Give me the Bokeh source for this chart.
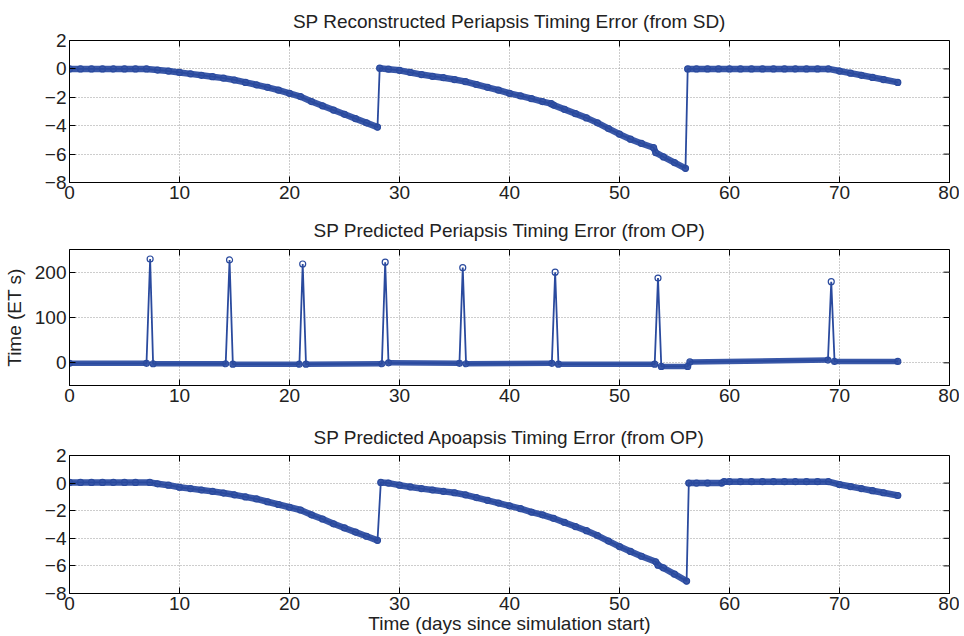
import math
from bokeh.plotting import figure
from bokeh.layouts import column
from bokeh.models import FixedTicker, Range1d
from bokeh.embed import file_html
from bokeh.resources import INLINE

# ---------------- data ----------------
X_TICKS = [0, 10, 20, 30, 40, 50, 60, 70, 80]
Y_TICKS_SMALL = [-8, -6, -4, -2, 0, 2]
Y_TICKS_OP = [0, 100, 200]

TITLE_SD = "SP Reconstructed Periapsis Timing Error (from SD)"
TITLE_OP_PERI = "SP Predicted Periapsis Timing Error (from OP)"
TITLE_OP_APO = "SP Predicted Apoapsis Timing Error (from OP)"
X_LABEL = "Time (days since simulation start)"
Y_LABEL = "Time (ET s)"

sd_days = [0, 1, 2, 3, 4, 5, 6, 7, 8, 9, 10, 11, 12, 13, 14, 15, 16, 17, 18, 19,
           20, 21, 22, 23, 24, 25, 26, 27, 28.0,
           28.2, 29, 30, 31, 32, 33, 34, 35, 36, 37, 38, 39, 40, 41, 42, 43, 43.8,
           44, 45, 46, 47, 48, 49, 50, 51, 52, 53.1, 53.3, 54, 55, 56.0,
           56.2, 57, 58, 59, 60, 61, 62, 63, 64, 65, 66, 67, 68, 69,
           70, 71, 72, 73, 74, 75.3]
sd_err = [0, 0, 0, 0, 0, 0, 0, 0, -0.08, -0.15, -0.25, -0.35, -0.45, -0.55, -0.65,
          -0.78, -0.95, -1.12, -1.3, -1.5, -1.72, -1.95, -2.3, -2.6, -2.9, -3.2,
          -3.5, -3.8, -4.1,
          0.05, -0.02, -0.1, -0.25, -0.4, -0.52, -0.62, -0.75, -0.9, -1.1, -1.3,
          -1.5, -1.72, -1.9, -2.1, -2.3, -2.45,
          -2.55, -2.85, -3.15, -3.45, -3.8, -4.2, -4.6, -4.95, -5.25, -5.55, -5.9,
          -6.2, -6.6, -7.0,
          0.0, 0.0, 0.0, 0.0, 0.0, 0.0, 0.0, 0.0, 0.0, 0.0, 0.0, 0.0, 0.0, 0.0,
          -0.15, -0.3, -0.45, -0.6, -0.75, -0.95]

op_peri_days = [0, 7.0, 7.33, 7.6, 14.2, 14.55, 14.85, 20.9, 21.2, 21.5, 28.4,
                28.7, 29.0, 35.45, 35.75, 36.05, 43.85, 44.15, 44.45, 53.2, 53.5,
                53.8, 56.2, 56.4, 68.95, 69.25, 69.55, 75.3]
op_peri_err = [-1, -1, 229, -2, -2, 227, -3, -3, 218, -3, -2, 222, 0, -1, 210, -2,
               -1, 200, -3, -3, 187, -8, -8, 2, 6, 179, 3, 3]

op_apo_days = [0, 1, 2, 3, 4, 5, 6, 7.3, 8, 9, 10, 11, 12, 13, 14, 15, 16, 17, 18,
               19, 20, 21, 22, 23, 24, 25, 26, 27, 28.0,
               28.3, 29, 30, 31, 32, 33, 34, 35, 36, 37, 38, 39, 40, 41, 42, 43, 44,
               45, 46, 47, 48, 49, 50, 51, 52, 53.3, 53.5, 54, 55, 56.1,
               56.3, 57, 58, 59.3, 59.5, 60, 61, 62, 63, 64, 65, 66, 67, 68, 69,
               70, 71, 72, 73, 74, 75.3]
op_apo_err = [0.05, 0.05, 0.05, 0.05, 0.05, 0.05, 0.05, 0.05, -0.05, -0.15, -0.3,
              -0.4, -0.5, -0.6, -0.72, -0.85, -1.0, -1.15, -1.35, -1.55, -1.75,
              -1.95, -2.3, -2.6, -2.95, -3.25, -3.55, -3.85, -4.15,
              0.05, 0.0, -0.15, -0.28, -0.4, -0.5, -0.6, -0.7, -0.85, -1.05, -1.25,
              -1.45, -1.65, -1.85, -2.1, -2.3, -2.55, -2.85, -3.15, -3.45, -3.8,
              -4.2, -4.6, -4.95, -5.3, -5.7, -5.95, -6.15, -6.6, -7.1,
              0.0, 0.0, 0.0, 0.0, 0.1, 0.1, 0.1, 0.1, 0.1, 0.1, 0.1, 0.1, 0.1, 0.1,
              0.1, -0.1, -0.25, -0.4, -0.55, -0.7, -0.9]

X_MIN, X_MAX = 0, 80

# ---------------- styling ----------------
FONT = "Liberation Sans"
BAND = "#3a58a8"
EDGE = "#2a4a9e"
TEXT = "#222222"


def band_segments(days, err, jump):
    """Break the dense-marker band wherever the series jumps (those are thin lines)."""
    bx, by = [], []
    for i, (d, e) in enumerate(zip(days, err)):
        if i > 0 and abs(e - err[i - 1]) > jump:
            bx.append(float("nan"))
            by.append(float("nan"))
        bx.append(d)
        by.append(e)
    return bx, by


def make_panel(title, days, err, ymin, ymax, yticks, frame_h, top, bottom,
               band_width, jump, title_standoff, xlabel=None, ylabel=None):
    p = figure(output_backend="svg", toolbar_location=None,
               frame_width=880, frame_height=frame_h,
               min_border_left=69, min_border_right=10,
               min_border_top=top, min_border_bottom=bottom,
               x_range=Range1d(X_MIN, X_MAX), y_range=Range1d(ymin, ymax))
    p.title.text = title
    p.title.align = "center"
    p.title.text_font = FONT
    p.title.text_font_size = "19px"
    p.title.text_font_style = "normal"
    p.title.text_color = TEXT
    p.title.standoff = title_standoff

    p.outline_line_color = "black"
    p.outline_line_width = 1

    p.xaxis.ticker = FixedTicker(ticks=X_TICKS)
    p.yaxis.ticker = FixedTicker(ticks=yticks)
    for ax in (p.xaxis[0], p.yaxis[0]):
        ax.major_tick_in = 6
        ax.major_tick_out = 0
        ax.minor_tick_in = 0
        ax.minor_tick_out = 0
        ax.axis_line_color = "black"
        ax.major_tick_line_color = "black"
        ax.major_label_text_font = FONT
        ax.major_label_text_font_size = "19px"
        ax.major_label_text_color = TEXT
        ax.major_label_standoff = 3
        ax.axis_label_text_font = FONT
        ax.axis_label_text_font_size = "19px"
        ax.axis_label_text_font_style = "normal"
        ax.axis_label_text_color = TEXT
    if xlabel:
        p.xaxis.axis_label = xlabel
        p.xaxis.axis_label_standoff = 0
    if ylabel:
        p.yaxis.axis_label = ylabel
        p.yaxis.axis_label_standoff = 7

    # inward ticks on the top and right edges of the box (MATLAB style)
    p.ray(x=X_TICKS, y=[ymax] * len(X_TICKS), length=6, length_units="screen",
          angle=-math.pi / 2, line_color="black", line_width=1)
    p.ray(x=[X_MAX] * len(yticks), y=yticks, length=6, length_units="screen",
          angle=math.pi, line_color="black", line_width=1)

    p.xgrid.ticker = FixedTicker(ticks=X_TICKS)
    p.ygrid.ticker = FixedTicker(ticks=yticks)
    for g in (p.xgrid[0], p.ygrid[0]):
        g.grid_line_color = "#9a9a9a"
        g.grid_line_dash = "1 2"
        g.grid_line_width = 1

    bx, by = band_segments(days, err, jump)
    p.line(bx, by, line_color=BAND, line_width=band_width,
           line_join="round", line_cap="round")
    p.line(days, err, line_color=EDGE, line_width=1.8)
    p.scatter(days, err, marker="circle", size=6, fill_color=None,
              line_color=EDGE, line_width=1.2)
    return p


p1 = make_panel(TITLE_SD, sd_days, sd_err, -8, 2, Y_TICKS_SMALL, 142, 39, 26,
                6.5, 2.0, 17)
p2 = make_panel(TITLE_OP_PERI, op_peri_days, op_peri_err, -50, 250, Y_TICKS_OP,
                136, 40, 24, 5.5, 20.0, 18, ylabel=Y_LABEL)
p3 = make_panel(TITLE_OP_APO, op_apo_days, op_apo_err, -8, 2, Y_TICKS_SMALL, 138,
                46, 40, 6.5, 2.0, 15, xlabel=X_LABEL)

layout = column(p1, p2, p3, spacing=0)
open("out.html", "w").write(file_html(layout, INLINE))
